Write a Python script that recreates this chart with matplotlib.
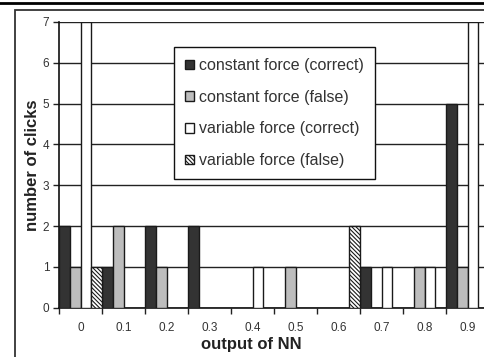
import numpy as np
import matplotlib
matplotlib.use("Agg")
import matplotlib.pyplot as plt
from matplotlib.patches import Rectangle
from matplotlib.lines import Line2D

plt.rcParams['font.family'] = ['Liberation Sans', 'DejaVu Sans']
plt.rcParams['hatch.linewidth'] = 0.8

categories = ['0', '0.1', '0.2', '0.3', '0.4', '0.5', '0.6', '0.7', '0.8', '0.9']
const_correct = [2, 1, 2, 2, 0, 0, 0, 1, 0, 5]
const_false = [1, 2, 1, 0, 0, 1, 0, 0, 1, 1]
var_correct = [7, 0, 0, 0, 1, 0, 0, 1, 1, 7]
var_false = [1, 0, 0, 0, 0, 0, 2, 0, 0, 0]

series = [
    ("constant force (correct)", const_correct, '#333333', None),
    ("constant force (false)", const_false, '#bdbdbd', None),
    ("variable force (correct)", var_correct, 'white', None),
    ("variable force (false)", var_false, 'white', '\\' * 8),
]

W, H = 484, 357
fig = plt.figure(figsize=(W / 100, H / 100), dpi=100)
ax = fig.add_axes([59 / W, (H - 307.7) / H, 430 / W, 285.7 / H])

x = np.arange(len(categories))
bw = 0.25
for i, (name, vals, col, hatch) in enumerate(series):
    ax.bar(x - 0.375 + i * bw, vals, width=bw, color=col, edgecolor='#1a1a1a',
           linewidth=1.0, hatch=hatch, label=name, zorder=3)

ax.set_xlim(-0.5, 9.5)
ax.set_ylim(0, 7)
ax.set_axisbelow(True)
ax.yaxis.grid(True, color='#222222', linewidth=1.0, zorder=0)
ax.set_yticks(range(8))

ax.set_xticks(np.arange(-0.5, 10, 1))
ax.set_xticklabels([])
ax.set_xticks(x, minor=True)
ax.set_xticklabels(categories, minor=True)
ax.tick_params(axis='x', which='major', direction='out', length=4, width=1, color='#222222')
ax.tick_params(axis='x', which='minor', length=0, pad=10, labelsize=8.5, labelcolor='#333333')
ax.tick_params(axis='y', direction='out', length=4, width=1, pad=3, labelsize=8.5,
               labelcolor='#333333', color='#222222')

for s in ['top', 'right']:
    ax.spines[s].set_visible(False)
ax.spines['left'].set_color('#111111')
ax.spines['bottom'].set_color('#111111')
ax.spines['left'].set_linewidth(1.2)
ax.spines['bottom'].set_linewidth(1.2)

fig.text(33 / W, 1 - 165 / H, 'number of clicks', rotation=90, ha='center', va='center',
         fontsize=12, fontweight='bold', color='#222222')
fig.text(251 / W, 1 - 344 / H, 'output of NN', ha='center', va='center',
         fontsize=12, fontweight='bold', color='#222222')

leg = ax.legend(loc='upper left', bbox_to_anchor=(174 / W, 1 - 47 / H),
                bbox_transform=fig.transFigure, fontsize=11.5, frameon=True,
                fancybox=False, framealpha=1, edgecolor='#111111',
                handlelength=0.55, handleheight=0.55, handletextpad=0.3,
                labelspacing=1.04, borderpad=0.7, borderaxespad=0)
leg.get_frame().set_linewidth(1.0)
for t in leg.get_texts():
    t.set_color('#333333')

# outer chart frame and page rule
fig.add_artist(Rectangle((15 / W, -0.1), 1.1, 1.1 - 10 / H, transform=fig.transFigure,
                         fill=False, edgecolor='#333333', linewidth=1.3))
fig.add_artist(Line2D([0, 1], [1 - 3 / H, 1 - 3 / H], transform=fig.transFigure,
                      color='black', linewidth=2))

fig.savefig('out.png', dpi=100)
